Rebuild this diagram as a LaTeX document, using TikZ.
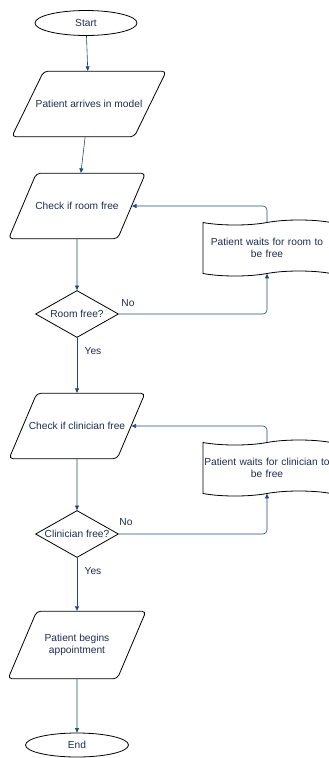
\documentclass[tikz,border=0pt]{standalone}
\usepackage{fontspec}
\setmainfont{Liberation Sans}
\usepackage{tikz}
\usetikzlibrary{positioning, shapes.geometric, shapes.symbols, arrows.meta}
\definecolor{flowblue}{RGB}{31,73,125}
\definecolor{flowtext}{RGB}{31,45,77}

\begin{document}
\begin{tikzpicture}[x=1pt, y=-1pt,
  every node/.style={font=\fontsize{10.2}{12}\selectfont, text=flowtext},
  terminal/.style={ellipse, draw=black, line width=0.8pt, fill=white, inner sep=0pt, minimum width=102pt, minimum height=25pt},
  iobox/.style={trapezium, trapezium left angle=67, trapezium right angle=113, draw=black, line width=0.8pt, rounded corners=4pt, fill=white, inner xsep=0pt, inner ysep=29pt, align=center},
  decision/.style={diamond, draw=black, line width=0.8pt, fill=white, inner sep=0pt, aspect=1.77, minimum width=83pt, minimum height=47pt},
  waitbox/.style={tape, draw=black, line width=0.8pt, fill=white, inner sep=0pt, text width=128pt, align=center, minimum height=56pt},
  flow/.style={draw=flowblue, line width=0.6pt, -{Triangle[length=4.5pt, width=4pt]}},
  loop/.style={flow, rounded corners=4pt}
]
\useasboundingbox (0,0) rectangle (329,758);
% Terminals and steps
\node[terminal] (start) at (86,23) {Start};
\node[iobox, trapezium left angle=64, trapezium right angle=116, inner xsep=-8pt] (arrive) at (89,104) {Patient arrives in model};
\node[iobox, inner xsep=-1pt] (roomchk) at (77,206) {Check if room free};
\node[decision] (roomq) at (77,314) {Room free?};
\node[waitbox] (roomwait) at (267,248) {Patient waits for room to\\be free};
\node[iobox, inner xsep=-8pt] (clinchk) at (77,426) {Check if clinician free};
\node[decision, inner xsep=-6.5pt] (clinq) at (77,534) {Clinician free?};
\node[waitbox] (clinwait) at (267,468) {Patient waits for clinician to\\be free};
\node[iobox, inner xsep=8pt, inner ysep=23pt] (begin) at (77,645) {Patient begins\\appointment};
\node[terminal, minimum width=103pt, minimum height=24pt] (end) at (77,745) {End};
% Answers
\node (roomno) at (128,303) {No};
\node (roomyes) at (93,351) {Yes};
\node (clinno) at (126,522) {No};
\node (clinyes) at (93,571) {Yes};
% Main flow
\draw[flow] (start) -- (arrive);
\draw[flow] (arrive) -- (roomchk);
\draw[flow] (roomchk) -- (roomq);
\draw[flow] (roomq) -- (clinchk);
\draw[flow] (clinchk) -- (clinq);
\draw[flow] (clinq) -- (begin);
\draw[flow] (begin) -- (end);
% Waiting loops
\draw[loop] (roomq.east) -| (roomwait.south);
\draw[loop] (roomwait.north) |- (roomchk.east);
\draw[loop] (clinq.east) -| (clinwait.south);
\draw[loop] (clinwait.north) |- (clinchk.east);
\end{tikzpicture}
\end{document}
